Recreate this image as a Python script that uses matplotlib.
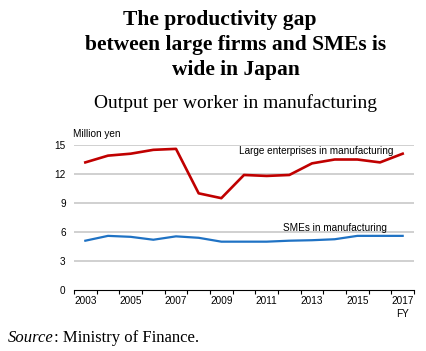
import numpy as np
import matplotlib.pyplot as plt

# data (million yen per worker)
years = list(range(2003, 2018))
large = [13.2, 13.9, 14.1, 14.5, 14.6, 10.0, 9.5, 11.9, 11.8, 11.9, 13.1, 13.5, 13.5, 13.2, 14.1]
smes = [5.1, 5.6, 5.5, 5.2, 5.55, 5.4, 5.0, 5.0, 5.0, 5.1, 5.15, 5.25, 5.6, 5.6, 5.6]
yticks = [0, 3, 6, 9, 12, 15]

W, H = 426, 351
fs = 7.2
sans = "Liberation Sans"
serif = "Liberation Serif"

fig = plt.figure(figsize=(W / 100, H / 100), dpi=100)
ax = fig.add_axes([74 / W, 1 - 290 / H, (414 - 74) / W, (290 - 145) / H])

x = np.arange(len(years))
ax.plot(x, large, color="#c00000", lw=1.9)
ax.plot(x, smes, color="#1f72c4", lw=1.6)

ax.set_xlim(-0.5, len(years) - 0.5)
ax.set_ylim(0, 15)
ax.set_yticks(yticks)
ax.set_yticklabels([str(v) for v in yticks], fontsize=fs, family=sans)
ax.tick_params(axis="y", length=0, pad=6)
for v in yticks[1:]:
    ax.axhline(v, color="#c8c8c8", lw=1.2, zorder=0)

# category axis: ticks between years, labels every other year
ax.set_xticks(np.arange(len(years) + 1) - 0.5, minor=True)
ax.set_xticks(x[::2])
ax.set_xticklabels([str(y) for y in years[::2]], fontsize=fs, family=sans)
ax.tick_params(axis="x", which="major", length=0, pad=4.5)
ax.tick_params(axis="x", which="minor", length=3, width=0.8, direction="out")
for s in ["top", "right", "left"]:
    ax.spines[s].set_visible(False)
ax.spines["bottom"].set_linewidth(0.8)

ax.text(len(years) - 1, -2.45, "FY", ha="center", va="center", fontsize=fs, family=sans)
ax.text(-0.55, 15.6, "Million yen", ha="left", va="bottom", fontsize=fs, family=sans)
ax.text(6.78, 14.4, "Large enterprises in manufacturing", fontsize=fs, family=sans, va="center")
ax.text(8.72, 6.4, "SMEs in manufacturing", fontsize=fs, family=sans, va="center")

fig.text(220 / W, 1 - 20 / H, "The productivity gap", ha="center", va="center",
         fontsize=15.5, fontweight="bold", family=serif)
fig.text(236 / W, 1 - 45 / H, "between large firms and SMEs is", ha="center", va="center",
         fontsize=15.5, fontweight="bold", family=serif)
fig.text(236 / W, 1 - 70 / H, "wide in Japan", ha="center", va="center",
         fontsize=15.5, fontweight="bold", family=serif)
fig.text(236 / W, 1 - 103 / H, "Output per worker in manufacturing", ha="center", va="center",
         fontsize=14, family=serif)

src = fig.text(8 / W, 1 - 342 / H, "Source", ha="left", va="baseline", fontsize=12,
               family=serif, style="italic")
fig.canvas.draw()
bb = src.get_window_extent()
fig.text(bb.x1 / W, 1 - 342 / H, ": Ministry of Finance.", ha="left", va="baseline",
         fontsize=12, family=serif)
fig.savefig("out.png", dpi=100)
